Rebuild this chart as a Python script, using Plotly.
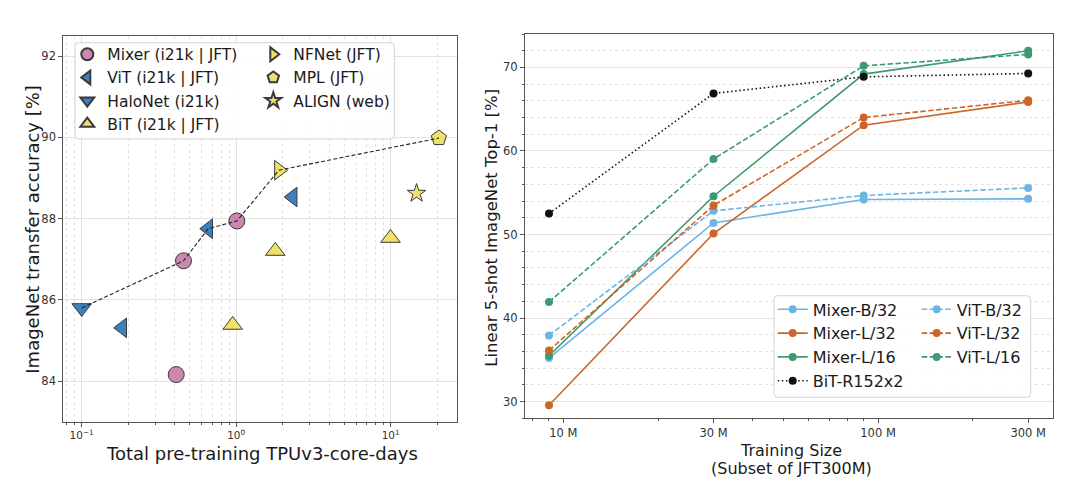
import plotly.graph_objects as go

W, H = 1080, 487
FONT = "DejaVu Sans"

# ---------------- Left panel data (TPUv3-core-days vs transfer accuracy) ----
mixer_x = [0.409, 0.456, 1.01]
mixer_y = [84.16, 86.96, 87.94]
vit_x = [0.183, 0.659, 2.32]
vit_y = [85.31, 87.75, 88.53]
halonet_x = [0.1]
halonet_y = [85.80]
bit_x = [0.949, 1.79, 9.97]
bit_y = [85.38, 87.20, 87.52]
nfnet_x = [1.89]
nfnet_y = [89.19]
mpl_x = [20.5]
mpl_y = [89.98]
align_x = [14.7]
align_y = [88.62]

left_xticks = [0.1, 1, 10]
left_xticktext = ["10<sup>−1</sup>", "10<sup>0</sup>", "10<sup>1</sup>"]
left_yticks = [84, 86, 88, 90, 92]

# ---------------- Right panel data (training size vs 5-shot top-1) ---------
train_sizes = [9e6, 3e7, 9e7, 3e8]
mixer_b32 = [35.21, 51.39, 54.19, 54.27]
mixer_l32 = [29.57, 50.12, 63.09, 65.87]
mixer_l16 = [35.49, 54.58, 69.20, 71.99]
vit_b32 = [37.92, 52.83, 54.67, 55.58]
vit_l32 = [36.12, 53.47, 64.00, 66.07]
vit_l16 = [41.92, 59.04, 70.19, 71.56]
bit_r152 = [52.51, 66.89, 68.87, 69.28]

right_xticks = [1e7, 3e7, 1e8, 3e8]
right_xticktext = ["10 M", "30 M", "100 M", "300 M"]
right_yticks = [30, 40, 50, 60, 70]

# ---------------- styling ----------------
PINK = "#cc87b1"
BLUE = "#3d80be"
YELLOW = "#eee26a"
EDGE = "#3a3a3a"
C_B = "#6cb4e4"
C_O = "#cc6628"
C_G = "#3e9a70"
C_K = "#111111"

fig = go.Figure()


def scatter_left(x, y, name, symbol, color, size, legend):
    fig.add_trace(go.Scatter(
        x=x, y=y, name=name, mode="markers", xaxis="x", yaxis="y",
        legend=legend,
        marker=dict(symbol=symbol, size=size, color=color,
                    line=dict(color=EDGE, width=1)),
    ))


# legend col 1
scatter_left(mixer_x, mixer_y, "Mixer (i21k | JFT)", "circle", PINK, 16, "legend")
scatter_left(vit_x, vit_y, "ViT (i21k | JFT)", "triangle-left", BLUE, 17, "legend")
scatter_left(halonet_x, halonet_y, "HaloNet (i21k)", "triangle-down", BLUE, 17, "legend")
scatter_left(bit_x, bit_y, "BiT (i21k | JFT)", "triangle-up", YELLOW, 17, "legend")
# legend col 2
scatter_left(nfnet_x, nfnet_y, "NFNet (JFT)", "triangle-right", YELLOW, 17, "legend2")
scatter_left(mpl_x, mpl_y, "MPL (JFT)", "pentagon", YELLOW, 16, "legend2")
scatter_left(align_x, align_y, "ALIGN (web)", "star", YELLOW, 14, "legend2")

# Pareto frontier (dashed)
frontier_x = [halonet_x[0], mixer_x[1], vit_x[1], mixer_x[2], nfnet_x[0], mpl_x[0]]
frontier_y = [halonet_y[0], mixer_y[1], vit_y[1], mixer_y[2], nfnet_y[0], mpl_y[0]]
fig.add_trace(go.Scatter(
    x=frontier_x, y=frontier_y, mode="lines", xaxis="x", yaxis="y",
    showlegend=False, hoverinfo="skip",
    line=dict(color="#222222", width=1.1, dash="4px,2.2px"),
))


def line_right(y, name, color, dash, legend):
    fig.add_trace(go.Scatter(
        x=train_sizes, y=y, name=name, mode="lines+markers",
        xaxis="x2", yaxis="y2", legend=legend,
        line=dict(color=color, width=1.6, dash=dash),
        marker=dict(color=color, size=8),
    ))


DASH = "5.5px,2.4px"
DOT = "1.5px,2.6px"
line_right(mixer_b32, "Mixer-B/32", C_B, "solid", "legend3")
line_right(mixer_l32, "Mixer-L/32", C_O, "solid", "legend3")
line_right(mixer_l16, "Mixer-L/16", C_G, "solid", "legend3")
line_right(bit_r152, "BiT-R152x2", C_K, DOT, "legend3")
line_right(vit_b32, "ViT-B/32", C_B, DASH, "legend4")
line_right(vit_l32, "ViT-L/32", C_O, DASH, "legend4")
line_right(vit_l16, "ViT-L/16", C_G, DASH, "legend4")


def px(xp):
    return xp / W


def py(yp):
    return 1 - yp / H


def rounded_box(x0, y0, x1, y1, r=4):
    rx, ry = r / W, r / H
    X0, X1 = px(x0), px(x1)
    Yt, Yb = py(y0), py(y1)
    return (f"M{X0+rx},{Yt} L{X1-rx},{Yt} Q{X1},{Yt} {X1},{Yt-ry} "
            f"L{X1},{Yb+ry} Q{X1},{Yb} {X1-rx},{Yb} "
            f"L{X0+rx},{Yb} Q{X0},{Yb} {X0},{Yb+ry} "
            f"L{X0},{Yt-ry} Q{X0},{Yt} {X0+rx},{Yt} Z")


shapes = [
    dict(type="path", xref="paper", yref="paper", layer="above",
         path=rounded_box(75, 42.7, 394.3, 139),
         line=dict(color="#d4d4d4", width=1), fillcolor="rgba(255,255,255,0.85)"),
    dict(type="path", xref="paper", yref="paper", layer="above",
         path=rounded_box(774, 295.7, 1030.7, 397.3),
         line=dict(color="#d4d4d4", width=1), fillcolor="rgba(255,255,255,0.85)"),
]

TXT = "#1a1a1a"
TICKC = "#333333"
AXC = "#555555"
GRID = "#e2e2e2"
tickfont = dict(family=FONT, size=11.5, color=TICKC)

axis_common = dict(showline=True, linecolor=AXC, linewidth=1, mirror=True,
                   ticks="outside", ticklen=4, tickcolor=AXC, tickwidth=1,
                   zeroline=False, gridcolor=GRID, gridwidth=1)

left_minor = [0.08, 0.09] + [k / 10 for k in range(2, 10)] + list(range(2, 10)) + [20]
right_minor = [8e6, 9e6, 2e7, 4e7, 5e7, 6e7, 7e7, 8e7, 9e7, 2e8]

legend_common = dict(xanchor="left", yanchor="top", bgcolor="rgba(0,0,0,0)",
                     borderwidth=0, traceorder="normal", orientation="v")

annotations = [
    dict(text="ImageNet transfer accuracy [%]", x=px(31.7), y=py(229), xref="paper", yref="paper",
         textangle=-90, showarrow=False, xanchor="center", yanchor="middle",
         font=dict(family=FONT, size=18, color=TXT)),
    dict(text="Total pre-training TPUv3-core-days", x=px(262), y=py(453), xref="paper", yref="paper",
         showarrow=False, xanchor="center", yanchor="middle",
         font=dict(family=FONT, size=18, color=TXT)),
    dict(text="Linear 5-shot ImageNet Top-1 [%]", x=px(490.7), y=py(228), xref="paper", yref="paper",
         textangle=-90, showarrow=False, xanchor="center", yanchor="middle",
         font=dict(family=FONT, size=16.5, color=TXT)),
    dict(text="Training Size", x=px(791), y=py(450), xref="paper", yref="paper",
         showarrow=False, xanchor="center", yanchor="middle",
         font=dict(family=FONT, size=16, color=TXT)),
    dict(text="(Subset of JFT300M)", x=px(791.5), y=py(468.5), xref="paper", yref="paper",
         showarrow=False, xanchor="center", yanchor="middle",
         font=dict(family=FONT, size=16, color=TXT)),
]

fig.update_layout(
    width=W, height=H,
    margin=dict(l=0, r=0, t=0, b=0),
    paper_bgcolor="white", plot_bgcolor="white",
    font=dict(family=FONT, color=TXT),
    showlegend=True,
    xaxis=dict(type="log", range=[-1.119, 1.427], domain=[px(63.3), px(456.7)], anchor="y",
               tickvals=left_xticks, ticktext=left_xticktext, showgrid=True,
               tickfont=dict(family=FONT, size=10.5, color=TICKC),
               minor=dict(tickvals=left_minor, ticks="outside", ticklen=2, tickcolor=AXC,
                          showgrid=True, griddash="dot", gridcolor=GRID, gridwidth=1),
               **axis_common),
    yaxis=dict(range=[83, 92.5], domain=[py(421.7), py(35.7)], anchor="x",
               tickvals=left_yticks, showgrid=True, tickfont=tickfont, **axis_common),
    xaxis2=dict(type="log", range=[6.878, 8.555], domain=[px(525), px(1052.7)], anchor="y2",
                tickvals=right_xticks, ticktext=right_xticktext, showgrid=False,
                tickfont=tickfont,
                minor=dict(tickvals=right_minor, ticks="outside", ticklen=2, tickcolor=AXC,
                           showgrid=False),
                **axis_common),
    yaxis2=dict(range=[28, 74], domain=[py(418.3), py(34)], anchor="x2",
                tickvals=right_yticks, showgrid=True, tickfont=tickfont,
                minor=dict(dtick=2, tick0=0, ticks="outside", ticklen=2, tickcolor=AXC,
                           showgrid=True, griddash="dot", gridcolor=GRID, gridwidth=1),
                **axis_common),
    legend=dict(x=px(67.3), y=py(37.7), itemsizing="constant",
                font=dict(family=FONT, size=15.5, color=TXT), **legend_common),
    legend2=dict(x=px(253.3), y=py(37.7), itemsizing="constant",
                 font=dict(family=FONT, size=15.5, color=TXT), **legend_common),
    legend3=dict(x=px(772.7), y=py(292.4), itemsizing="trace",
                 font=dict(family=FONT, size=16, color=TXT), **legend_common),
    legend4=dict(x=px(916.7), y=py(292.4), itemsizing="trace",
                 font=dict(family=FONT, size=16, color=TXT), **legend_common),
    shapes=shapes,
    annotations=annotations,
)

fig.write_html("out.html")
